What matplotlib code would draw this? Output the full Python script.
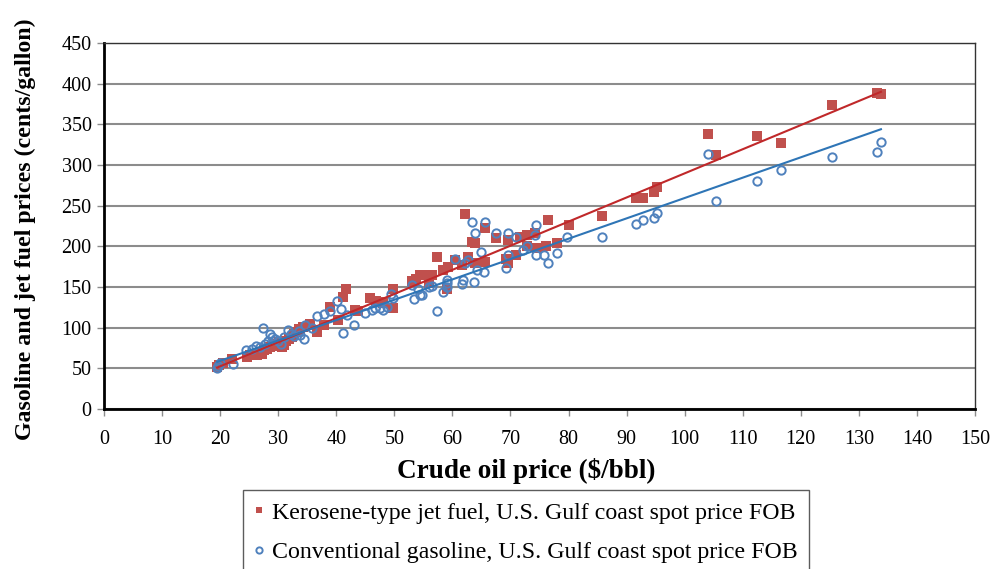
import matplotlib
matplotlib.use("Agg")
import matplotlib.pyplot as plt
import numpy as np

plt.rcParams['font.family'] = ['Liberation Serif', 'DejaVu Serif']

# crude oil price ($/bbl) vs product price (cents/gallon)
jet_x = [19.4, 19.8, 20.5, 22.0, 24.6, 25.2, 25.8, 26.3, 26.8, 27.2, 27.6, 28.0, 28.6, 29.0,
         29.4, 29.8, 30.2, 30.6, 31.0, 31.4, 31.8, 32.3, 32.8, 33.2, 33.6, 34.3, 35.5, 36.6,
         37.9, 38.9, 40.3, 41.2, 41.7, 43.2, 43.8, 45.8, 46.9, 47.5, 48.1, 49.8, 49.8, 53.0,
         54.5, 53.8, 55.9, 55.0, 56.4, 57.3, 58.4, 59.0, 59.3, 60.4, 61.6, 62.2, 62.7, 63.4,
         63.9, 63.9, 65.6, 65.6, 67.5, 69.3, 69.5, 69.6, 71.0, 71.6, 72.8, 72.8, 74.2, 74.5,
         76.2, 76.5, 78.0, 80.0, 85.7, 91.6, 92.9, 94.7, 95.3, 104.1, 105.4, 112.5, 116.6,
         125.3, 133.2, 133.8]
jet_y = [52, 54, 56, 62, 64, 66, 67, 66, 69, 68, 72, 74, 76, 78,
         80, 79, 82, 76, 79, 84, 86, 88, 92, 95, 98, 101, 105, 95,
         103, 126, 109, 138, 147, 122, 120, 136, 133, 132, 130, 124, 147, 157,
         165, 160, 155, 165, 165, 187, 171, 148, 175, 183, 177, 240, 187, 205,
         204, 179, 223, 181, 210, 185, 208, 179, 189, 212, 214, 200, 216, 198,
         200, 232, 204, 226, 237, 260, 260, 267, 273, 338, 312, 336, 327,
         374, 389, 387]

gas_x = [19.4, 19.7, 20.0, 22.2, 24.5, 25.5, 26.2, 26.8, 27.4, 27.8, 28.2, 28.6, 28.9, 29.5,
         30.0, 30.5, 31.0, 31.6, 32.2, 32.8, 33.5, 33.8, 34.4, 34.6, 35.9, 36.7, 37.9, 39.0,
         40.2, 40.8, 41.1, 41.8, 43.1, 45.0, 46.1, 46.7, 47.5, 48.1, 48.7, 49.5, 49.7, 53.0,
         53.3, 54.1, 54.4, 54.7, 55.9, 56.4, 57.3, 58.3, 59.0, 59.0, 59.0, 60.4, 61.6, 61.9,
         62.2, 62.7, 63.3, 63.8, 63.9, 64.2, 64.9, 65.5, 65.6, 67.5, 69.3, 69.5, 69.6, 71.0,
         72.2, 72.8, 74.2, 74.4, 74.4, 75.8, 76.5, 78.0, 79.8, 85.7, 91.6, 92.9, 94.7, 95.3,
         104.0, 105.4, 112.5, 116.6, 125.3, 133.2, 133.8]
gas_y = [50, 53, 57, 55, 72, 74, 78, 76, 100, 80, 84, 92, 88, 86,
         83, 80, 88, 97, 92, 90, 96, 91, 86, 103, 99, 114, 117, 120,
         133, 123, 93, 115, 103, 118, 122, 124, 124, 122, 125, 142, 136, 153,
         135, 148, 140, 140, 150, 151, 120, 144, 158, 155, 150, 185, 154, 159,
         180, 183, 230, 156, 216, 171, 193, 169, 230, 216, 173, 216, 189, 212,
         196, 200, 214, 226, 189, 189, 179, 192, 211, 212, 228, 232, 235, 241,
         314, 256, 280, 294, 310, 316, 328]

# linear trend lines (end points)
trend_x = [19.5, 133.8]
jet_trend = [51, 390]
gas_trend = [58, 344]

x_ticks = list(range(0, 151, 10))
y_ticks = list(range(0, 451, 50))

fig = plt.figure(figsize=(10.03, 5.69), dpi=100)
ax = fig.add_axes([0.1037, 0.2812, 0.8684, 0.6432])

ax.grid(axis='y', color='#8c8c8c', linewidth=1.5, zorder=0)
ax.set_axisbelow(True)

ax.plot(jet_x, jet_y, 's', color='#C0504D', markersize=6.5, markeredgewidth=0,
        label='Kerosene-type jet fuel, U.S. Gulf coast spot price FOB', zorder=3)
ax.plot(gas_x, gas_y, 'o', markerfacecolor='none', markeredgecolor='#4F81BD',
        markersize=6, markeredgewidth=1.4,
        label='Conventional gasoline, U.S. Gulf coast spot price FOB', zorder=3)
ax.plot(trend_x, jet_trend, '-', color='#C0282A', linewidth=1.5, zorder=4)
ax.plot(trend_x, gas_trend, '-', color='#2E75B6', linewidth=1.5, zorder=4)

ax.set_xlim(0, 150)
ax.set_ylim(0, 450)
ax.set_xticks(x_ticks)
ax.set_yticks(y_ticks)
ax.tick_params(axis='both', labelsize=14.5, length=5, color='#8c8c8c', width=1)
ax.tick_params(axis='x', pad=10)
ax.tick_params(axis='y', pad=4)

ax.spines['left'].set_linewidth(2)
ax.spines['bottom'].set_linewidth(2)
ax.spines['top'].set_linewidth(1)
ax.spines['right'].set_linewidth(1)
ax.spines['top'].set_color('#333333')
ax.spines['right'].set_color('#333333')

ax.set_xlabel('Crude oil price ($/bbl)', fontsize=19.5, fontweight='bold')
ax.xaxis.set_label_coords(0.485, -0.135)
ax.set_ylabel('Gasoline and jet fuel prices (cents/gallon)', fontsize=17.2,
              fontweight='bold')
ax.yaxis.set_label_coords(-0.078, 0.49)

leg = fig.legend(loc='upper left', bbox_to_anchor=(243 / 1003, 1 - 490 / 569),
                 fontsize=17.2, frameon=True, fancybox=False, edgecolor='#333333',
                 handlelength=0.35, handletextpad=0.35, borderpad=0.5,
                 labelspacing=0.75, markerscale=0.75, borderaxespad=0)
leg.get_frame().set_linewidth(1)

fig.savefig('out.png', dpi=100)
